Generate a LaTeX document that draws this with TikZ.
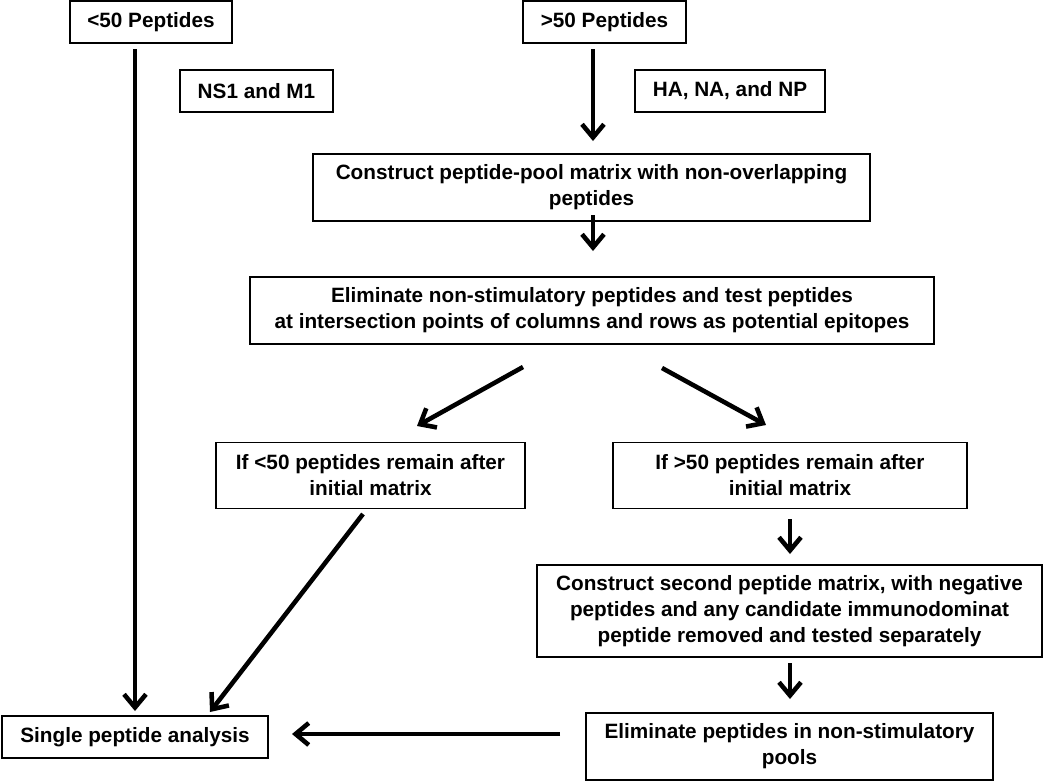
\documentclass[tikz,border=0pt]{standalone}
\usepackage{fontspec}
\setmainfont{Liberation Sans}
\usetikzlibrary{arrows.meta}

\begin{document}
\begin{tikzpicture}[
  box/.style={draw, line width=1.1pt, align=center, inner sep=0pt, font=\bfseries\fontsize{11.8}{14.8}\selectfont},
  arr/.style={line width=2.6pt, -{Straight Barb[length=7.5pt,width=12.5pt]}}
]
\useasboundingbox (0,0) rectangle (21,-15.64);

\node[box, minimum width=3.24cm, minimum height=0.84cm] (v1) at (3.02,-0.44) {<50 Peptides};
\node[box, minimum width=3.06cm, minimum height=0.84cm] (v2) at (5.13,-1.82) {NS1 and M1};
\node[box, minimum width=3.26cm, minimum height=0.84cm] (v3) at (12.09,-0.44) {>50 Peptides};
\node[box, minimum width=3.8cm, minimum height=0.84cm] (v4) at (14.6,-1.82) {HA, NA, and NP};
\node[box, minimum width=11.14cm, minimum height=1.34cm] (v5) at (11.83,-3.75) {Construct peptide-pool matrix with non-overlapping\\peptides};
\node[box, minimum width=13.68cm, minimum height=1.34cm] (v6) at (11.84,-6.21) {Eliminate non-stimulatory peptides and test peptides\\at intersection points of columns and rows as potential epitopes};
\node[box, minimum width=6.18cm, minimum height=1.32cm] (v7) at (7.41,-9.51) {If <50 peptides remain after\\initial matrix};
\node[box, minimum width=7.08cm, minimum height=1.32cm] (v8) at (15.8,-9.51) {If >50 peptides remain after\\initial matrix};
\node[box, minimum width=10.1cm, minimum height=1.84cm] (v9) at (15.79,-12.22) {Construct second peptide matrix, with negative\\peptides and any candidate immunodominat\\peptide removed and tested separately};
\node[box, minimum width=8.14cm, minimum height=1.34cm] (v10) at (15.79,-14.93) {Eliminate peptides in non-stimulatory\\pools};
\node[box, minimum width=5.32cm, minimum height=0.84cm] (v11) at (2.7,-14.74) {Single peptide analysis};

\coordinate (v12) at (2.7,-0.98);
\coordinate (v13) at (2.7,-14.22);
\coordinate (v14) at (11.86,-0.98);
\coordinate (v15) at (11.86,-2.82);
\coordinate (v16) at (11.86,-4.3);
\coordinate (v17) at (11.86,-5.02);
\coordinate (v18) at (10.46,-7.34);
\coordinate (v19) at (8.34,-8.52);
\coordinate (v20) at (13.24,-7.36);
\coordinate (v21) at (15.32,-8.5);
\coordinate (v22) at (7.26,-10.28);
\coordinate (v23) at (4.2,-14.24);
\coordinate (v24) at (15.8,-10.38);
\coordinate (v25) at (15.8,-11.08);
\coordinate (v26) at (15.8,-13.26);
\coordinate (v27) at (15.8,-13.98);
\coordinate (v28) at (11.2,-14.68);
\coordinate (v29) at (5.84,-14.68);

\draw [arr] (v12) -- (v13);
\draw [arr] (v14) -- (v15);
\draw [arr] (v16) -- (v17);
\draw [arr] (v18) -- (v19);
\draw [arr] (v20) -- (v21);
\draw [arr] (v22) -- (v23);
\draw [arr] (v24) -- (v25);
\draw [arr] (v26) -- (v27);
\draw [arr] (v28) -- (v29);
\end{tikzpicture}
\end{document}
